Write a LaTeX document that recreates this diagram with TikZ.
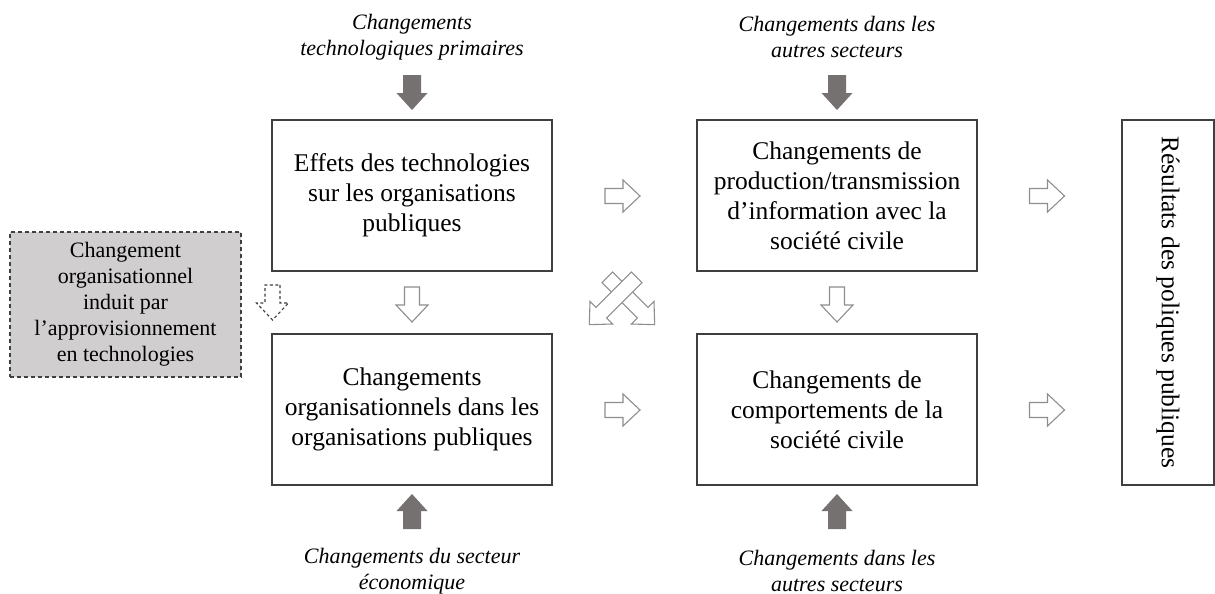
\documentclass[tikz,border=0pt]{standalone}
\usepackage{fontspec}
\setmainfont{Liberation Serif}
\definecolor{boxline}{HTML}{3F3F3F}
\definecolor{arrowline}{HTML}{8E8E8E}
\definecolor{darkfill}{HTML}{767171}
\definecolor{grayfill}{HTML}{D0CECE}
\tikzset{
  box/.style={draw=boxline, line width=1.4pt, inner sep=0pt, align=center, font=\fontsize{25.5}{30}\selectfont},
  lbl/.style={align=center, inner sep=0pt, font=\fontsize{22}{26}\selectfont\itshape},
  pics/blockarrow/.style={code={
    \path[pic actions] ({-#1/2},-7.5) -- ({#1/2-17},-7.5) -- ({#1/2-17},-16) -- ({#1/2},0)
      -- ({#1/2-17},16) -- ({#1/2-17},7.5) -- ({-#1/2},7.5) -- cycle;}},
  pics/darkblockarrow/.style={code={
    \path[pic actions] ({-#1/2},-9) -- ({#1/2-17},-9) -- ({#1/2-17},-15.5) -- ({#1/2},0)
      -- ({#1/2-17},15.5) -- ({#1/2-17},9) -- ({-#1/2},9) -- cycle;}},
  openarrow/.style={draw=arrowline, fill=white, line width=1.1pt, line join=miter},
  darkarrow/.style={fill=darkfill, draw=none},
  dasharrow/.style={draw=boxline, fill=white, line width=1.1pt, dash pattern=on 3pt off 2.5pt},
}
\begin{document}
\begin{tikzpicture}[x=1pt, y=-1pt]
\useasboundingbox (0,0) rectangle (1215,594);

% main boxes
\node[box, minimum width=280pt, minimum height=151pt] (b1) at (412,195.5)
  {Effets des technologies\\sur les organisations\\publiques};
\node[box, minimum width=280pt, minimum height=151pt] (b2) at (412,409.5)
  {Changements\\organisationnels dans les\\organisations publiques};
\node[box, minimum width=280pt, minimum height=151pt] (b3) at (837,195.5)
  {Changements de\\production/transmission\\d’information avec la\\société civile};
\node[box, minimum width=280pt, minimum height=151pt] (b4) at (837,409.5)
  {Changements de\\comportements de la\\société civile};
\node[box, minimum width=365pt, minimum height=92pt, rotate=-90] (b5) at (1168,302.5)
  {Résultats des poliques publiques};

% dashed gray box
\node[draw=boxline, fill=grayfill, line width=1.2pt, dash pattern=on 4pt off 3pt,
  minimum width=231pt, minimum height=145pt, inner sep=0pt, align=center,
  font=\fontsize{22}{26}\selectfont] (g) at (125.5,304.5)
  {Changement\\organisationnel\\induit par\\l’approvisionnement\\en technologies};

% external labels
\node[lbl] (t1) at (412,37) {Changements\\technologiques primaires};
\node[lbl] (t2) at (837,37) {Changements dans les\\autres secteurs};
\node[lbl] (u1) at (412,571) {Changements du secteur\\économique};
\node[lbl] (u2) at (837,571) {Changements dans les\\autres secteurs};

% dark arrows
\pic[darkarrow, rotate=-90] at (412,92.5) {darkblockarrow=35};
\pic[darkarrow, rotate=-90] at (837,92.5) {darkblockarrow=35};
\pic[darkarrow, rotate=90] at (412,511.5) {darkblockarrow=35};
\pic[darkarrow, rotate=90] at (837,511.5) {darkblockarrow=35};

% open arrows
\pic[openarrow] at (622.5,196) {blockarrow=35};
\pic[openarrow] at (622.5,410) {blockarrow=35};
\pic[openarrow] at (1047,196) {blockarrow=35};
\pic[openarrow] at (1047,410) {blockarrow=35};
\pic[openarrow, rotate=-90] at (412,304.5) {blockarrow=35};
\pic[openarrow, rotate=-90] at (837,304.5) {blockarrow=35};

% dashed arrow
\pic[dasharrow, rotate=-90] at (272.5,302.5) {blockarrow=35};

% crossed arrows
\pic[openarrow, rotate=-45] at (631,301) {blockarrow=67};
\pic[openarrow, rotate=-135] at (613,301) {blockarrow=67};
\end{tikzpicture}
\end{document}
